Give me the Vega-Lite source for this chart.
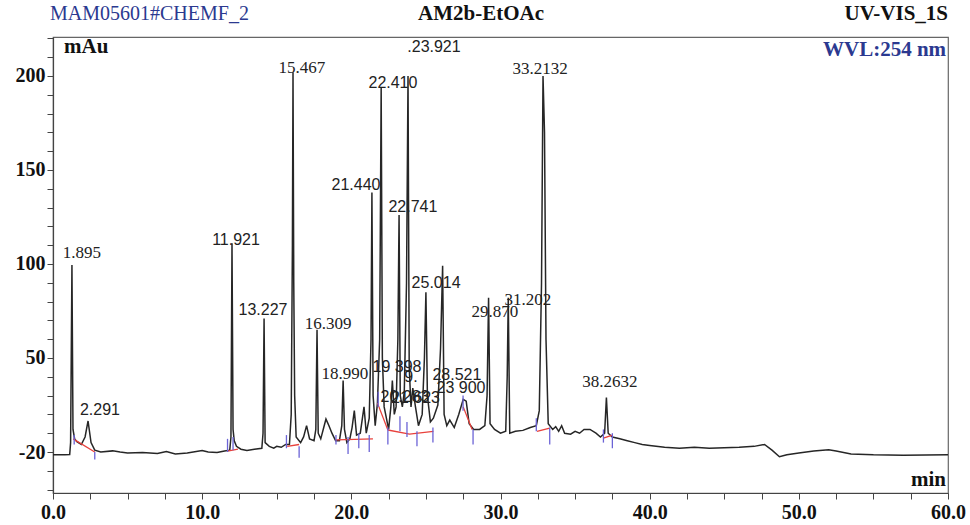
{
  "$schema": "https://vega.github.io/schema/vega-lite/v6.json",
  "width": 895,
  "height": 456,
  "autosize": {"type": "none"},
  "padding": {"left": 53, "top": 37, "right": 22, "bottom": 32},
  "background": "white",
  "config": {"view": {"stroke": "#666", "strokeWidth": 1.2}},
  "datasets": {
    "curve": [
      {"t":0,"v":-1.5},{"t":0.8,"v":-1.5},{"t":1.12,"v":-1.3},{"t":1.18,"v":5},{"t":1.27,"v":99.5},{"t":1.34,"v":12},{"t":1.45,"v":7},{"t":1.6,"v":5.5},{"t":1.9,"v":4},{"t":2.15,"v":8},{"t":2.35,"v":16.5},{"t":2.55,"v":5},{"t":2.8,"v":1},{"t":3.2,"v":0},{"t":4.0,"v":0.6},{"t":4.5,"v":0},{"t":5.0,"v":-0.5},{"t":6.0,"v":-0.3},{"t":7.0,"v":-0.8},{"t":7.6,"v":0.3},{"t":8.2,"v":-1},{"t":9.0,"v":-0.5},{"t":10.0,"v":0.8},{"t":10.4,"v":0},{"t":11.0,"v":-0.3},{"t":11.5,"v":0.5},{"t":11.85,"v":1},{"t":11.93,"v":8},{"t":12.0,"v":111},{"t":12.07,"v":12},{"t":12.15,"v":6},{"t":12.3,"v":3},{"t":12.6,"v":1.5},{"t":13.0,"v":0.8},{"t":13.5,"v":1.5},{"t":14.0,"v":2},{"t":14.08,"v":10},{"t":14.15,"v":71},{"t":14.22,"v":5},{"t":14.5,"v":3},{"t":14.8,"v":2},{"t":15.0,"v":3},{"t":15.3,"v":2.5},{"t":15.6,"v":4},{"t":15.85,"v":4},{"t":15.97,"v":20},{"t":16.05,"v":110},{"t":16.09,"v":202},{"t":16.14,"v":90},{"t":16.2,"v":30},{"t":16.3,"v":8},{"t":16.6,"v":5},{"t":16.8,"v":8},{"t":17.0,"v":14},{"t":17.2,"v":7},{"t":17.5,"v":6},{"t":17.62,"v":12},{"t":17.7,"v":65},{"t":17.78,"v":10},{"t":17.95,"v":7},{"t":18.15,"v":13},{"t":18.3,"v":17.5},{"t":18.5,"v":14},{"t":18.7,"v":10},{"t":18.95,"v":6},{"t":19.2,"v":6},{"t":19.36,"v":14},{"t":19.45,"v":38},{"t":19.54,"v":12},{"t":19.7,"v":5},{"t":19.9,"v":7},{"t":20.05,"v":13},{"t":20.2,"v":22},{"t":20.35,"v":9},{"t":20.6,"v":10},{"t":20.85,"v":24},{"t":21.0,"v":10},{"t":21.2,"v":18},{"t":21.32,"v":60},{"t":21.38,"v":138},{"t":21.46,"v":30},{"t":21.6,"v":14},{"t":21.75,"v":26},{"t":21.9,"v":60},{"t":22.0,"v":194},{"t":22.08,"v":50},{"t":22.2,"v":24},{"t":22.35,"v":18},{"t":22.5,"v":12},{"t":22.65,"v":24},{"t":22.75,"v":38},{"t":22.88,"v":20},{"t":23.0,"v":24},{"t":23.12,"v":60},{"t":23.2,"v":126},{"t":23.28,"v":30},{"t":23.42,"v":24},{"t":23.55,"v":32},{"t":23.7,"v":90},{"t":23.8,"v":200},{"t":23.88,"v":45},{"t":24.0,"v":24},{"t":24.12,"v":34},{"t":24.3,"v":24},{"t":24.5,"v":14},{"t":24.75,"v":20},{"t":24.9,"v":50},{"t":25.0,"v":85},{"t":25.1,"v":30},{"t":25.3,"v":16},{"t":25.5,"v":18},{"t":25.8,"v":25},{"t":25.98,"v":55},{"t":26.12,"v":99},{"t":26.22,"v":20},{"t":26.4,"v":14},{"t":26.6,"v":17},{"t":26.9,"v":13},{"t":27.2,"v":20},{"t":27.5,"v":28},{"t":27.7,"v":27},{"t":27.9,"v":15},{"t":28.2,"v":12},{"t":28.6,"v":12},{"t":28.95,"v":14},{"t":29.1,"v":30},{"t":29.2,"v":82},{"t":29.3,"v":15},{"t":29.6,"v":12},{"t":30.0,"v":10},{"t":30.35,"v":11},{"t":30.45,"v":40},{"t":30.52,"v":82},{"t":30.62,"v":10},{"t":31.0,"v":11},{"t":31.5,"v":11.5},{"t":32.0,"v":13},{"t":32.4,"v":14},{"t":32.6,"v":22},{"t":32.75,"v":90},{"t":32.85,"v":200},{"t":32.95,"v":170},{"t":33.05,"v":60},{"t":33.2,"v":15},{"t":33.5,"v":12},{"t":33.7,"v":13.5},{"t":33.9,"v":11},{"t":34.1,"v":14},{"t":34.3,"v":10},{"t":34.7,"v":9.5},{"t":35.0,"v":11},{"t":35.3,"v":10},{"t":35.6,"v":12},{"t":36.0,"v":12},{"t":36.4,"v":10},{"t":36.7,"v":8},{"t":36.98,"v":10},{"t":37.1,"v":29},{"t":37.22,"v":10},{"t":37.5,"v":8},{"t":38,"v":7},{"t":38.5,"v":6},{"t":39,"v":5},{"t":39.5,"v":4},{"t":40,"v":3.5},{"t":41,"v":2.5},{"t":42,"v":2},{"t":43,"v":2.5},{"t":44,"v":2},{"t":45,"v":2.2},{"t":46,"v":2.5},{"t":47,"v":3},{"t":47.7,"v":4},{"t":48.2,"v":1},{"t":48.7,"v":-2.5},{"t":49.2,"v":-1.5},{"t":50,"v":-0.5},{"t":51,"v":0.5},{"t":52,"v":1.2},{"t":52.5,"v":0.5},{"t":53.5,"v":-1},{"t":55,"v":-1.5},{"t":57,"v":-1.7},{"t":60,"v":-1.5}
    ],
    "redbase": [
      {"seg":"A","t":1.35,"v":7},{"seg":"A","t":2.8,"v":0},
      {"seg":"B","t":11.7,"v":0.5},{"seg":"B","t":12.4,"v":1.5},
      {"seg":"C","t":15.7,"v":3},{"seg":"C","t":16.5,"v":4},
      {"seg":"D","t":18.95,"v":6.5},{"seg":"D","t":21.45,"v":7},
      {"seg":"E","t":21.75,"v":26},{"seg":"E","t":22.45,"v":11.7},
      {"seg":"F","t":22.45,"v":11.7},{"seg":"F","t":23.9,"v":9.5},{"seg":"F","t":25.5,"v":11},
      {"seg":"G","t":27.5,"v":24},{"seg":"G","t":28.1,"v":12},
      {"seg":"H","t":32.45,"v":11},{"seg":"H","t":33.3,"v":12.7},
      {"seg":"I","t":36.9,"v":7.4},{"seg":"I","t":37.5,"v":9}
    ],
    "bluemarks": [
      {"t":1.42,"v":4,"v2":9},{"t":2.8,"v":-4,"v2":0},{"t":11.7,"v":0,"v2":7},{"t":12.07,"v":1,"v2":8},
      {"t":15.65,"v":2,"v2":9},{"t":16.5,"v":-3,"v2":3},{"t":18.97,"v":4,"v2":9},{"t":19.78,"v":-1,"v2":8},
      {"t":20.5,"v":2,"v2":10},{"t":21.2,"v":0,"v2":9},{"t":21.8,"v":24,"v2":32},{"t":22.45,"v":4,"v2":13},
      {"t":23.26,"v":11,"v2":19},{"t":23.73,"v":8,"v2":16},{"t":24.4,"v":3,"v2":11},{"t":25.47,"v":5,"v2":13},
      {"t":27.49,"v":22,"v2":30},{"t":28.16,"v":4,"v2":12},{"t":32.4,"v":11,"v2":18},{"t":33.3,"v":4,"v2":13},
      {"t":36.9,"v":5,"v2":12},{"t":37.5,"v":2,"v2":10}
    ]
  },
  "encoding": {
    "x": {"field": "t", "type": "quantitative",
      "scale": {"domain": [0, 60], "nice": false, "zero": false},
      "axis": {"title": null, "grid": false,
        "values": [0,2.5,5,7.5,10,12.5,15,17.5,20,22.5,25,27.5,30,32.5,35,37.5,40,42.5,45,47.5,50,52.5,55,57.5,60],
        "labelExpr": "datum.value % 10 == 0 ? format(datum.value, '.1f') : ''",
        "labelFont": "Liberation Serif", "labelFontWeight": "bold", "labelFontSize": 20, "labelColor": "#111",
        "labelPadding": 3, "labelOverlap": false, "labelFlush": false,
        "tickSize": 6, "tickColor": "#444", "domainColor": "#444", "domainWidth": 1.2}},
    "y": {"field": "v", "type": "quantitative",
      "scale": {"domain": [-21.8, 220.7], "nice": false, "zero": false},
      "axis": {"title": null, "grid": false,
        "values": [-20,-10,0,10,20,30,40,50,60,70,80,90,100,110,120,130,140,150,160,170,180,190,200,210,220],
        "labelExpr": "datum.value == 0 ? '-20' : ((datum.value == 50 || datum.value == 100 || datum.value == 150 || datum.value == 200) ? datum.label : '')",
        "labelFont": "Liberation Serif", "labelFontWeight": "bold", "labelFontSize": 20, "labelColor": "#111",
        "labelPadding": 2, "labelOverlap": false, "labelFlush": false, "labelBound": false,
        "tickSize": 6, "tickColor": "#444", "domainColor": "#444", "domainWidth": 1.2}}
  },
  "layer": [
    {
      "data": {"name": "curve"},
      "mark": {"type": "line", "color": "#262626", "strokeWidth": 1.5}
    },
    {
      "data": {"name": "redbase"},
      "mark": {"type": "line", "color": "#e8413c", "strokeWidth": 1.3},
      "encoding": {"detail": {"field": "seg", "type": "nominal"}}
    },
    {
      "data": {"name": "bluemarks"},
      "mark": {"type": "rule", "color": "#6b63d6", "strokeWidth": 1.3},
      "encoding": {"y2": {"field": "v2"}}
    },
    {
      "data": {"values": [
        {"t":1.94,"v":103.2,"label":"1.895"},
        {"t":16.69,"v":201.6,"label":"15.467"},
        {"t":18.44,"v":65.4,"label":"16.309"},
        {"t":19.57,"v":38.8,"label":"18.990"},
        {"t":29.63,"v":71.8,"label":"29.870"},
        {"t":31.84,"v":78.2,"label":"31.202"},
        {"t":32.65,"v":201,"label":"33.2132"},
        {"t":37.34,"v":34.6,"label":"38.2632"}
      ]},
      "mark": {"type": "text", "font": "Liberation Serif", "fontSize": 17, "color": "#222", "align": "center", "baseline": "alphabetic"},
      "encoding": {"text": {"field": "label"}}
    },
    {
      "data": {"values": [
        {"t":3.15,"v":19.7,"label":"2.291"},
        {"t":12.27,"v":110,"label":"11.921"},
        {"t":14.08,"v":72.9,"label":"13.227"},
        {"t":20.31,"v":139.4,"label":"21.440"},
        {"t":22.79,"v":193.6,"label":"22.410"},
        {"t":25.54,"v":212.8,"label":".23.921"},
        {"t":24.13,"v":127.7,"label":"22.741"},
        {"t":25.68,"v":87.2,"label":"25.014"},
        {"t":23.06,"v":42.5,"label":"19 398"},
        {"t":27.08,"v":38.3,"label":"28.521"},
        {"t":27.35,"v":31.4,"label":"23 900"},
        {"t":23.6,"v":26.6,"label":"20.283"},
        {"t":24.3,"v":26.0,"label":"21.623"},
        {"t":24.0,"v":37.0,"label":"9."}
      ]},
      "mark": {"type": "text", "font": "Liberation Sans", "fontSize": 16, "color": "#222", "align": "center", "baseline": "alphabetic"},
      "encoding": {"text": {"field": "label"}}
    },
    {
      "data": {"values": [{"t":-0.2,"v":229.8,"label":"MAM05601#CHEMF_2"}]},
      "mark": {"type": "text", "font": "Liberation Serif", "fontSize": 20, "color": "#2b3990", "align": "left", "baseline": "alphabetic"},
      "encoding": {"text": {"field": "label"}}
    },
    {
      "data": {"values": [{"t":28.69,"v":229.8,"label":"AM2b-EtOAc"}]},
      "mark": {"type": "text", "font": "Liberation Serif", "fontSize": 21, "fontWeight": "bold", "color": "#111", "align": "center", "baseline": "alphabetic"},
      "encoding": {"text": {"field": "label"}}
    },
    {
      "data": {"values": [{"t":60,"v":229.8,"label":"UV-VIS_1S"}]},
      "mark": {"type": "text", "font": "Liberation Serif", "fontSize": 21, "fontWeight": "bold", "color": "#111", "align": "right", "baseline": "alphabetic"},
      "encoding": {"text": {"field": "label"}}
    },
    {
      "data": {"values": [{"t":59.87,"v":210.6,"label":"WVL:254 nm"}]},
      "mark": {"type": "text", "font": "Liberation Serif", "fontSize": 21, "fontWeight": "bold", "color": "#2b3990", "align": "right", "baseline": "alphabetic"},
      "encoding": {"text": {"field": "label"}}
    },
    {
      "data": {"values": [{"t":0.74,"v":212.2,"label":"mAu"}]},
      "mark": {"type": "text", "font": "Liberation Serif", "fontSize": 21, "fontWeight": "bold", "color": "#111", "align": "left", "baseline": "alphabetic"},
      "encoding": {"text": {"field": "label"}}
    },
    {
      "data": {"values": [{"t":59.87,"v":-18.1,"label":"min"}]},
      "mark": {"type": "text", "font": "Liberation Serif", "fontSize": 21, "fontWeight": "bold", "color": "#111", "align": "right", "baseline": "alphabetic"},
      "encoding": {"text": {"field": "label"}}
    }
  ]
}
